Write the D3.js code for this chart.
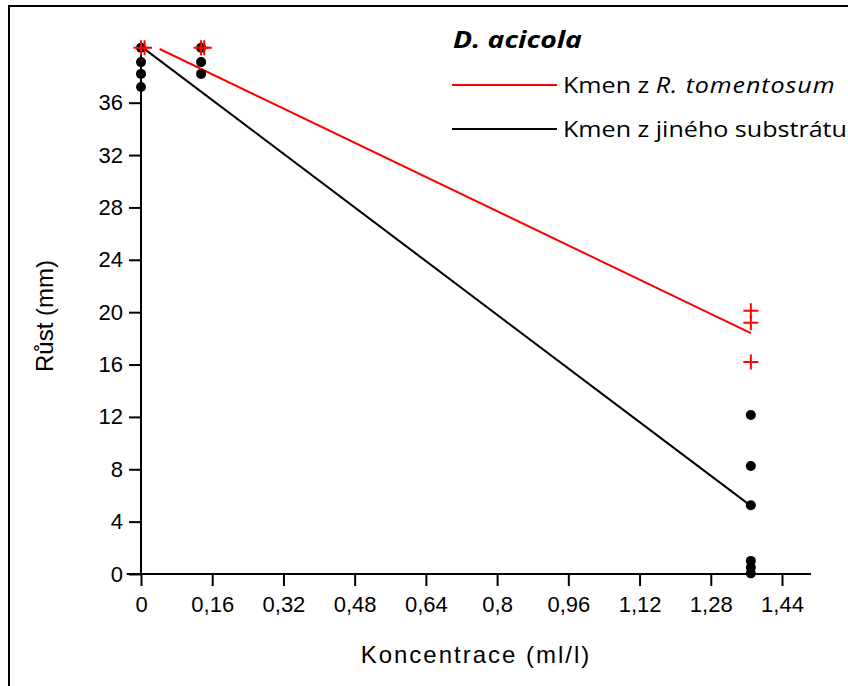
<!DOCTYPE html>
<html>
<head>
<meta charset="utf-8">
<script src="https://cdn.jsdelivr.net/npm/d3@7/dist/d3.min.js"></script>
<style>
  html, body { margin: 0; padding: 0; background: #ffffff; }
  svg { display: block; }
</style>
</head>
<body>
<div id="chart"></div>
<script>
/* Growth of D. acicola vs. concentration — scatter with two fitted lines */

// ---- data ----
var X_TICKS = [0, 0.16, 0.32, 0.48, 0.64, 0.8, 0.96, 1.12, 1.28, 1.44];
var Y_TICKS = [0, 4, 8, 12, 16, 20, 24, 28, 32, 36];

// strain from another substrate (black dots)
var BLACK_X = [0, 0, 0, 0, 0.135, 0.135, 0.135, 1.37, 1.37, 1.37, 1.37, 1.37, 1.37];
var BLACK_Y = [40.2, 39.1, 38.2, 37.2, 40.2, 39.1, 38.2, 12.15, 8.25, 5.25, 1.0, 0.5, 0.05];

// strain from R. tomentosum (red pluses)
var RED_X = [0, 0.008, 0.135, 0.142, 1.37, 1.37, 1.37];
var RED_Y = [40.2, 40.2, 40.2, 40.2, 20.1, 19.2, 16.2];

// fitted lines, endpoints
var RED_FIT_X = [0.042, 1.37];
var RED_FIT_Y = [40.1, 18.4];
var BLACK_FIT_X = [0, 1.37];
var BLACK_FIT_Y = [40.3, 5.2];

var LEGEND_TITLE = 'D. acicola';
var X_TITLE = 'Koncentrace (ml/l)';
var Y_TITLE = 'Růst (mm)';

(function () {
  'use strict';

  var WIDTH = 848;
  var HEIGHT = 686;
  var COLOR_RED = '#ff0000';
  var COLOR_BLACK = '#000000';
  var AXIS_FONT = '"Liberation Sans", Arial, sans-serif';
  var LEGEND_FONT = '"Open Sans", "Noto Sans", sans-serif';

  var x = d3.scaleLinear().domain([0, 1.44]).range([141, 782]);
  var y = d3.scaleLinear().domain([0, 36]).range([574, 102.7]);
  var X_EXTENT = [-0.032, 1.505];
  var Y_EXTENT = [0, 40.4];

  function fmt(d) { return String(d).replace('.', ','); }

  var svg = d3.select('#chart').append('svg')
    .attr('width', WIDTH)
    .attr('height', HEIGHT);

  // outer frame (runs off the right and bottom of the picture)
  svg.append('rect')
    .attr('x', 9).attr('y', 6)
    .attr('width', 900).attr('height', 760)
    .attr('fill', 'none')
    .attr('stroke', '#000')
    .attr('stroke-width', 2);

  // ---- axes ----
  var xAxis = d3.axisBottom(x).tickValues(X_TICKS).tickFormat(fmt).tickSize(12).tickPadding(10);
  var yAxis = d3.axisLeft(y).tickValues(Y_TICKS).tickFormat(fmt).tickSize(12).tickPadding(6);

  var gx = svg.append('g').attr('transform', 'translate(0,' + y(0) + ')').call(xAxis);
  var gy = svg.append('g').attr('transform', 'translate(' + x(0) + ',0)').call(yAxis);

  [gx, gy].forEach(function (g) {
    g.select('.domain').remove();
    g.selectAll('.tick line').attr('stroke', '#000').attr('stroke-width', 2);
    g.selectAll('.tick text')
      .attr('fill', '#000')
      .attr('font-family', AXIS_FONT)
      .attr('font-size', '22px');
  });

  svg.append('line')
    .attr('x1', x(X_EXTENT[0])).attr('x2', x(X_EXTENT[1]))
    .attr('y1', y(0)).attr('y2', y(0))
    .attr('stroke', '#000').attr('stroke-width', 2);

  svg.append('line')
    .attr('x1', x(0)).attr('x2', x(0))
    .attr('y1', y(Y_EXTENT[0])).attr('y2', y(Y_EXTENT[1]))
    .attr('stroke', '#000').attr('stroke-width', 2);

  svg.append('text')
    .attr('x', 476).attr('y', 663)
    .attr('text-anchor', 'middle')
    .attr('font-family', AXIS_FONT)
    .attr('font-size', '24px')
    .attr('letter-spacing', '2px')
    .text(X_TITLE);

  svg.append('text')
    .attr('transform', 'translate(53,316) rotate(-90)')
    .attr('text-anchor', 'middle')
    .attr('font-family', AXIS_FONT)
    .attr('font-size', '24px')
    .text(Y_TITLE);

  // ---- fitted lines ----
  function drawFit(xs, ys, color) {
    svg.append('line')
      .attr('x1', x(xs[0])).attr('y1', y(ys[0]))
      .attr('x2', x(xs[1])).attr('y2', y(ys[1]))
      .attr('stroke', color)
      .attr('stroke-width', 2);
  }
  drawFit(BLACK_FIT_X, BLACK_FIT_Y, COLOR_BLACK);
  drawFit(RED_FIT_X, RED_FIT_Y, COLOR_RED);

  // ---- points ----
  svg.append('g').selectAll('circle')
    .data(BLACK_X)
    .enter().append('circle')
    .attr('cx', function (d) { return x(d); })
    .attr('cy', function (d, i) { return y(BLACK_Y[i]); })
    .attr('r', 5)
    .attr('fill', COLOR_BLACK);

  var PLUS = 7.5;
  svg.append('g').selectAll('path')
    .data(RED_X)
    .enter().append('path')
    .attr('d', function (d, i) {
      var cx = x(d), cy = y(RED_Y[i]);
      return 'M' + (cx - PLUS) + ',' + cy + 'H' + (cx + PLUS) +
        'M' + cx + ',' + (cy - PLUS) + 'V' + (cy + PLUS);
    })
    .attr('stroke', COLOR_RED)
    .attr('stroke-width', 2)
    .attr('fill', 'none');

  // ---- legend ----
  var legend = svg.append('g');
  legend.append('text')
    .attr('transform', 'translate(453,48) scale(1.18,1)')
    .attr('font-family', LEGEND_FONT)
    .attr('font-size', '24px')
    .attr('font-weight', 'bold')
    .attr('font-style', 'italic')
    .text(LEGEND_TITLE);

  var rows = [
    { color: COLOR_RED, y: 85, parts: [['Kmen z ', 'normal', 0], ['R. tomentosum', 'italic', 0.8]] },
    { color: COLOR_BLACK, y: 129, parts: [['Kmen z jiného substrátu', 'normal', 0]] }
  ];
  rows.forEach(function (row) {
    legend.append('line')
      .attr('x1', 452).attr('x2', 557)
      .attr('y1', row.y).attr('y2', row.y)
      .attr('stroke', row.color)
      .attr('stroke-width', 2);
    var t = legend.append('text')
      .attr('transform', 'translate(563,' + (row.y + 8) + ') scale(1.14,1)')
      .attr('font-family', LEGEND_FONT)
      .attr('font-size', '22px')
      .attr('fill', '#000');
    row.parts.forEach(function (p) {
      t.append('tspan')
        .attr('font-style', p[1])
        .attr('letter-spacing', p[2] + 'px')
        .text(p[0]);
    });
  });
})();
</script>
</body>
</html>
